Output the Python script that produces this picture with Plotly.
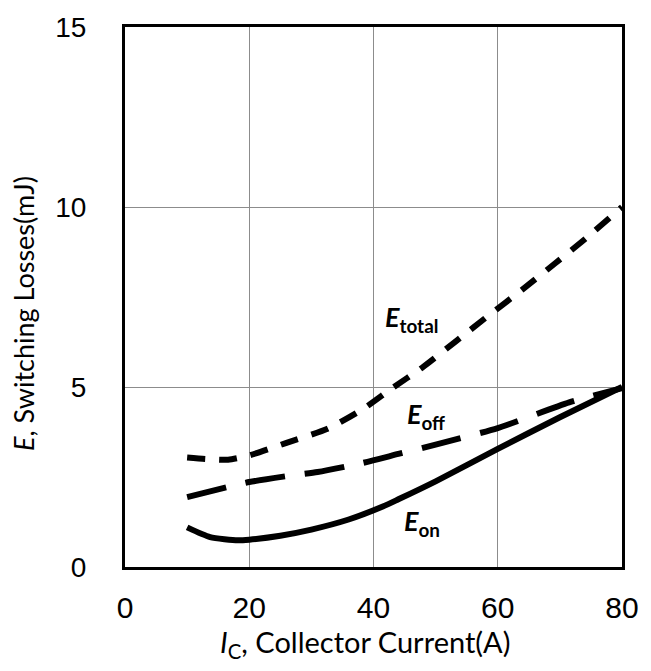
import plotly.graph_objects as go

ic_on = [10, 13.7, 18.2, 20, 25, 30, 36, 41.5, 44, 50, 60, 70, 80]
e_on = [1.10, 0.83, 0.74, 0.76, 0.87, 1.04, 1.32, 1.68, 1.88, 2.38, 3.28, 4.16, 5.0]

ic_off = [10, 17, 20, 27, 31, 38, 44, 50, 60, 71.5, 80]
e_off = [1.94, 2.24, 2.36, 2.55, 2.64, 2.88, 3.14, 3.40, 3.86, 4.57, 4.97]

ic_total = [10, 13, 16.6, 20, 26, 32.6, 38.5, 42.7, 48, 53.4, 58.7, 64, 69.2, 74.4, 80]
e_total = [3.04, 3.0, 2.98, 3.1, 3.45, 3.84, 4.41, 4.93, 5.56, 6.29, 7.01, 7.71, 8.43, 9.16, 10.0]

x_ticks = [0, 20, 40, 60, 80]
y_ticks = [0, 5, 10, 15]

labels = [
    ("<b><i>E</i><sub>total</sub></b>", 46.1, 6.9),
    ("<b><i>E</i><sub>off</sub></b>", 48.5, 4.2),
    ("<b><i>E</i><sub>on</sub></b>", 47.8, 1.23),
]

fig = go.Figure()
fig.add_trace(go.Scatter(x=ic_total, y=e_total, mode="lines",
                         line=dict(color="black", width=6, dash="18px,14px", shape="spline", smoothing=0.6),
                         showlegend=False))
fig.add_trace(go.Scatter(x=ic_off, y=e_off, mode="lines",
                         line=dict(color="black", width=6, dash="40px,20px", shape="spline", smoothing=0.6),
                         showlegend=False))
fig.add_trace(go.Scatter(x=ic_on, y=e_on, mode="lines",
                         line=dict(color="black", width=6, shape="spline", smoothing=0.6),
                         showlegend=False))

for text, x, y in labels:
    fig.add_annotation(x=x, y=y, text=text, showarrow=False,
                       font=dict(family="Lato, Open Sans, sans-serif", size=27, color="black"))

fig.add_annotation(xref="paper", yref="paper", x=0.5, y=0, xanchor="center", yanchor="middle",
                   yshift=-76, xshift=-9,
                   text="<i>I</i><sub>C</sub>, Collector Current(A)", showarrow=False,
                   font=dict(family="Lato, Open Sans, sans-serif", size=29, color="black"))
fig.add_annotation(xref="paper", yref="paper", x=0, y=0.5, xanchor="center", yanchor="middle",
                   xshift=-102, yshift=-17, textangle=-90,
                   text="<i>E</i>, Switching Losses(mJ)", showarrow=False,
                   font=dict(family="Lato, Open Sans, sans-serif", size=27, color="black"))

fig.update_layout(
    width=651, height=671,
    margin=dict(l=125, r=29, t=21, b=104),
    plot_bgcolor="white", paper_bgcolor="white",
    font=dict(family="Liberation Sans, Arial, sans-serif", size=28, color="black"),
)
fig.update_xaxes(range=[0, 80], tickvals=x_ticks, ticks="", showgrid=True, gridcolor="#8c8c8c", gridwidth=1,
                 showline=True, linecolor="black", linewidth=3, mirror=True, zeroline=False,
                 tickfont=dict(size=30), ticklabelstandoff=12)
fig.update_yaxes(range=[0, 15], tickvals=y_ticks, ticks="", showgrid=True, gridcolor="#8c8c8c", gridwidth=1,
                 showline=True, linecolor="black", linewidth=3, mirror=True, zeroline=False,
                 tickfont=dict(size=28), ticklabelstandoff=30)

fig.write_html("out.html", config={"displayModeBar": False},
               post_script="document.body.style.margin='0';document.body.style.overflow='hidden';")
